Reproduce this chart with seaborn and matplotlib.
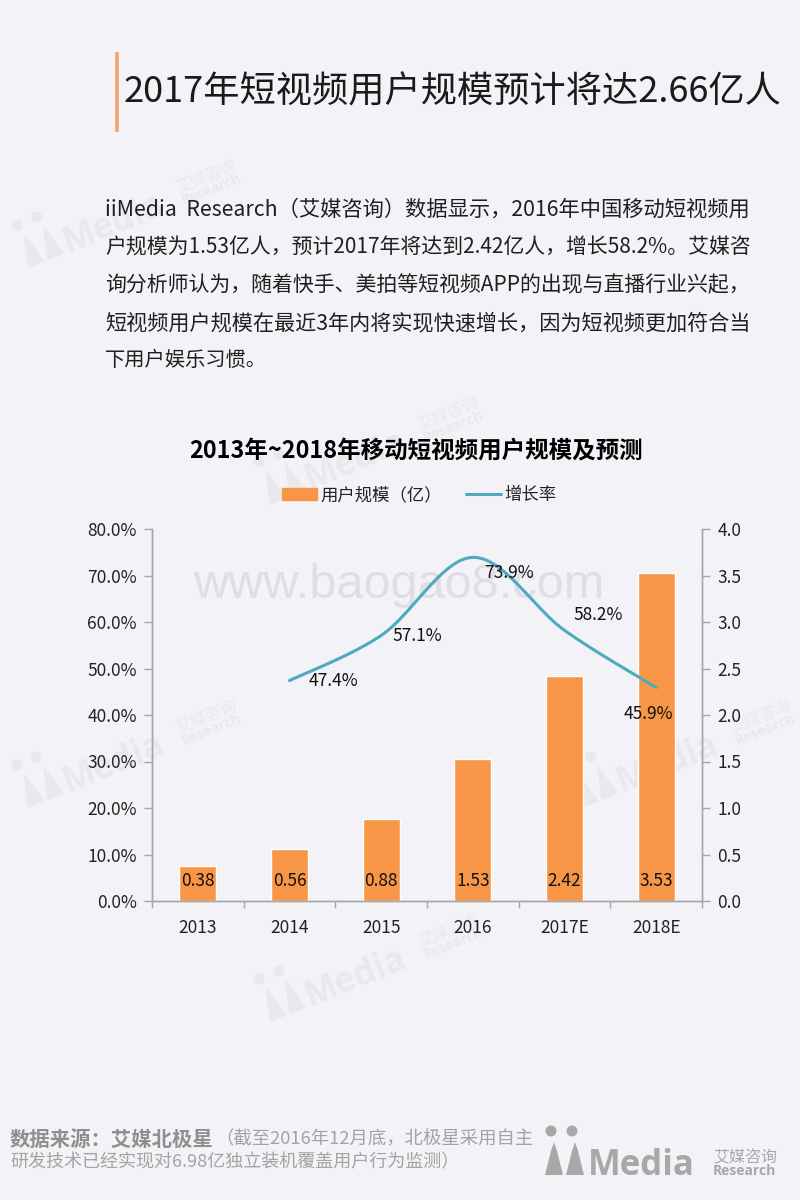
import numpy as np
import pandas as pd
import matplotlib
matplotlib.use("Agg")
import matplotlib.pyplot as plt
from matplotlib.lines import Line2D
from matplotlib.patches import Patch, Circle, Polygon
from matplotlib.transforms import Affine2D
import seaborn as sns

years = ["2013", "2014", "2015", "2016", "2017E", "2018E"]
users = [0.38, 0.56, 0.88, 1.53, 2.42, 3.53]
growth = [47.4, 57.1, 73.9, 58.2, 45.9]
growth_labels = ["47.4%", "57.1%", "73.9%", "58.2%", "45.9%"]
growth_offsets_px = [(44, 0), (36, 1), (36, 16), (34, -15), (-8, 26)]

title = "2017年短视频用户规模预计将达2.66亿人"
paragraph = [
    "iiMedia  Research（艾媒咨询）数据显示，2016年中国移动短视频用",
    "户规模为1.53亿人，预计2017年将达到2.42亿人，增长58.2%。艾媒咨",
    "询分析师认为，随着快手、美拍等短视频APP的出现与直播行业兴起，",
    "短视频用户规模在最近3年内将实现快速增长，因为短视频更加符合当",
    "下用户娱乐习惯。",
]
chart_title = "2013年~2018年移动短视频用户规模及预测"
legend_bar = "用户规模（亿）"
legend_line = "增长率"
source_bold = "数据来源：艾媒北极星"
source_rest = "（截至2016年12月底，北极星采用自主"
source_line2 = "研发技术已经实现对6.98亿独立装机覆盖用户行为监测）"

BG = "#f3f2f6"
ORANGE = "#f79646"
TEAL = "#4fa9bf"
AXIS = "#a6a6a6"
CJK = ["Noto Sans CJK SC", "DejaVu Sans"]

sns.set_theme(style="white")
plt.rcParams["font.family"] = CJK

W, H = 800, 1200
fig = plt.figure(figsize=(8, 12), dpi=100, facecolor=BG)
renderer = fig.canvas.get_renderer()

# full-figure layer in pixel coordinates for decoration and text
bg = fig.add_axes([0, 0, 1, 1], zorder=0)
bg.set_xlim(0, W)
bg.set_ylim(H, 0)
bg.axis("off")


def fit(t, width):
    w = t.get_window_extent(renderer).width
    t.set_fontsize(t.get_fontsize() * width / w)
    return t


def logo(x, y, s=1.0, angle=0.0, color="#a9a9a9", z=1):
    """x, y: lower-left of the logo in pixels."""
    tr = Affine2D().scale(s).rotate_deg(-angle).translate(x, y) + bg.transData

    def pt(px, py):
        return tr.transform((px, py)), bg.transData.inverted().transform(tr.transform((px, py)))

    for cx in (6, 27):
        bg.add_patch(Circle((cx, -44), 5.5, transform=tr, color=color, lw=0, zorder=z))
    for x0 in (0, 21):
        bg.add_patch(Polygon([(x0, 0), (x0 + 6, -24), (x0 + 9, -33), (x0 + 12, -24), (x0 + 18, 0)],
                             closed=True, transform=tr, color=color, lw=0, zorder=z))

    def tx(px, py, text, size, **kw):
        _, p = pt(px, py)
        bg.text(p[0], p[1], text, fontsize=size * s, color=color, rotation=angle,
                rotation_mode="anchor", ha="left", va="baseline", zorder=z, **kw)

    tx(43, 0, "Media", 25, fontweight="bold", family=["Open Sans", "DejaVu Sans"])
    tx(168, -13, "艾媒咨询", 11.5, family=CJK)
    tx(168, 0, "Research", 10, fontweight="bold", family=["Open Sans", "DejaVu Sans"])


WM = "#e9e8ec"
for lx, ly in [(28, 268), (270, 1022), (28, 808), (582, 808), (270, 505)]:
    logo(lx, ly, s=1.0, angle=22, color=WM)
logo(545, 1175, s=1.0, angle=0, color="#a8a8a8")

bg.text(193, 585, "www.baogao8.com", fontsize=35, color="#dfdee2", va="center", ha="left",
        family=["Liberation Sans"], zorder=2)

# header
bg.plot([116.5, 116.5], [52, 132], color="#f0a570", lw=2.6, solid_capstyle="butt")
fit(bg.text(124, 92, title, fontsize=26, color="#1a1a1a", va="center", ha="left"), 658)

# paragraph
para_y = [210, 248, 285, 323, 360]
for i, (line, y) in enumerate(zip(paragraph, para_y)):
    t = bg.text(105, y, line, fontsize=14.6, color="#1f1f1f", va="center", ha="left")
    if i < 4:
        fit(t, 645)

# chart title
fit(bg.text(416, 452, chart_title, fontsize=16, fontweight="bold", color="black",
            va="center", ha="center"), 454)

# footer
t1 = fit(bg.text(10, 1139, source_bold, fontsize=14.5, fontweight="bold", color="#8f8f8f",
                 va="center", ha="left"), 203)
fit(bg.text(215, 1139, source_rest, fontsize=13.5, color="#a3a3a3", va="center", ha="left"), 318)
fit(bg.text(10, 1162, source_line2, fontsize=13.5, color="#a3a3a3", va="center", ha="left"), 450)

# chart axes: px 152-702 horizontally, 529-901 vertically
ax = fig.add_axes([152 / W, 1 - 901 / H, 550 / W, 372 / H], zorder=3)
ax.patch.set_alpha(0)
ax2 = ax.twinx()
ax2.patch.set_alpha(0)

df = pd.DataFrame({"year": years, "users": users})
sns.barplot(data=df, x="year", y="users", ax=ax2, color=ORANGE, width=0.4, saturation=1, zorder=1)
ax2.set_ylim(0, 4)
ax2.set_yticks(np.arange(0, 4.01, 0.5))
ax2.set_yticklabels([f"{v:.1f}" for v in np.arange(0, 4.01, 0.5)])
ax2.set_ylabel("")
ax2.set_xlabel("")
for p, v in zip(ax2.patches, users):
    ax2.annotate(f"{v:.2f}", (p.get_x() + p.get_width() / 2, 0), xytext=(0, 20 * 0.72),
                 textcoords="offset points", ha="center", va="center", fontsize=12.5, color="#111111")


def catmull_rom(xs, ys, n=40):
    xs, ys = np.asarray(xs, float), np.asarray(ys, float)
    px = np.r_[xs[0], xs, xs[-1]]
    py = np.r_[ys[0], ys, ys[-1]]
    out_x, out_y = [], []
    for i in range(1, len(px) - 2):
        for u in np.linspace(0, 1, n, endpoint=False):
            b = [(-u**3 + 2*u**2 - u) / 2, (3*u**3 - 5*u**2 + 2) / 2,
                 (-3*u**3 + 4*u**2 + u) / 2, (u**3 - u**2) / 2]
            out_x.append(sum(b[k] * px[i - 1 + k] for k in range(4)))
            out_y.append(sum(b[k] * py[i - 1 + k] for k in range(4)))
    out_x.append(xs[-1])
    out_y.append(ys[-1])
    return np.array(out_x), np.array(out_y)


# growth line lives on the left axis, drawn above the bars
ax.set_zorder(ax2.get_zorder() + 1)
ax.patch.set_alpha(0)
gx = np.arange(1, 6)
sx, sy = catmull_rom(gx, growth)
sns.lineplot(x=sx, y=sy, ax=ax, color=TEAL, lw=2.2, sort=False, errorbar=None)
ax.set_xlim(-0.5, 5.5)
ax.set_ylim(0, 80)
ax.set_yticks(np.arange(0, 81, 10))
ax.set_yticklabels([f"{v:.1f}%" for v in np.arange(0, 81, 10)])
ax2.set_xlim(-0.5, 5.5)
for x_, v, lab, (ox, oy) in zip(gx, growth, growth_labels, growth_offsets_px):
    ax.annotate(lab, (x_, v), xytext=(ox * 0.72, -oy * 0.72), textcoords="offset points",
                ha="center", va="center", fontsize=12.5, color="#111111")

ax.set_xticks(np.arange(6))
ax.set_xticklabels(years)
ax2.tick_params(axis="x", bottom=False, labelbottom=False)
ax.set_xticks(np.arange(-0.5, 6, 1), minor=True)
ax.tick_params(axis="x", which="major", length=0, pad=13, labelsize=12.5, colors="#222222")
ax.tick_params(axis="x", which="minor", length=5, color=AXIS, width=1, bottom=True)
ax.tick_params(axis="y", length=6, color=AXIS, width=1, labelsize=12.5, labelcolor="#222222", left=True, pad=5)
ax2.tick_params(axis="y", length=6, color=AXIS, width=1, labelsize=12.5, labelcolor="#222222", right=True, pad=5)
for a in (ax, ax2):
    a.spines["top"].set_visible(False)
    for s in ("left", "right", "bottom"):
        a.spines[s].set_color(AXIS)
        a.spines[s].set_linewidth(1)

handles = [Patch(color=ORANGE, label=legend_bar), Line2D([0], [0], color=TEAL, lw=2.2, label=legend_line)]
leg = fig.legend(handles=handles, loc="center", bbox_to_anchor=(419 / W, 1 - 495 / H), ncol=2, frameon=False,
                 fontsize=12.5, handlelength=2.0, handletextpad=0.2, columnspacing=1.4, labelcolor="#222222")

fig.savefig("out.png", dpi=100, facecolor=BG)
